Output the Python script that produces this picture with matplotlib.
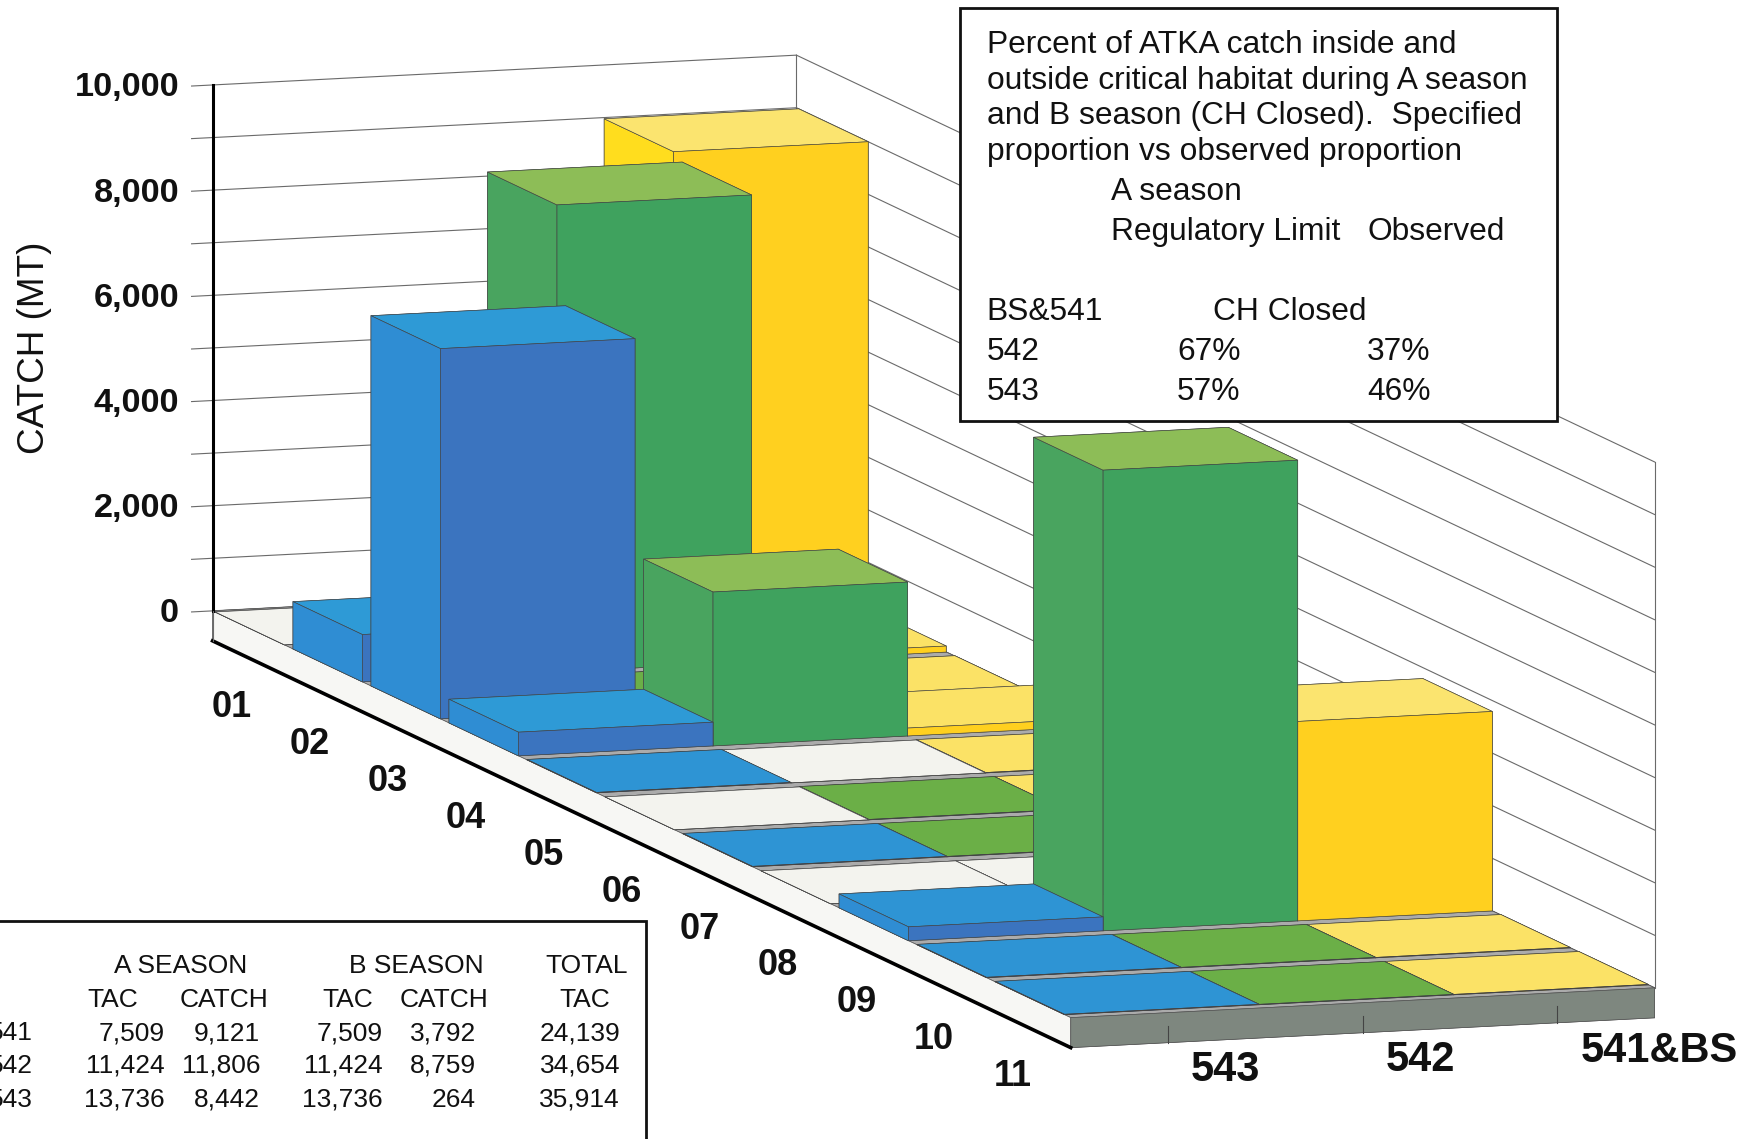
import matplotlib
matplotlib.use("Agg")
import matplotlib.pyplot as plt
from matplotlib.patches import Rectangle
from mpl_toolkits.mplot3d import proj3d

plt.rcParams['font.family'] = ['Liberation Sans', 'DejaVu Sans']

months = ['01', '02', '03', '04', '05', '06', '07', '08', '09', '10', '11']
areas = ['543', '542', '541&BS']
catch_543 = [0, 900, 7040, 450, 8, 0, 8, 0, 264, 8, 8]
catch_542 = [0, 8880, 8, 2926, 0, 8, 8, 0, 8759, 8, 8]
catch_541 = [9000, 115, 8, 150, 8, 8, 0, 0, 3792, 8, 8]
value_ticks = [0, 2000, 4000, 6000, 8000, 10000]
minor_ticks = [0, 1000, 2000, 3000, 4000, 5000, 6000, 7000, 8000, 9000, 10000]

# table values
table_rows = ['541', '542', '543']
a_tac = ['7,509', '11,424', '13,736']
a_catch = ['9,121', '11,806', '8,442']
b_tac = ['7,509', '11,424', '13,736']
b_catch = ['3,792', '8,759', '264']
total_tac = ['24,139', '34,654', '35,914']

W, H = 1744, 1139
fig = plt.figure(figsize=(W / 100, H / 100), dpi=100, facecolor='white')

# square 3D axes, view centre (which sits at 0.95/1.85 of the axes) on the chart box middle
cx, cy = 933.6, 536.4
c = 0.95 / 1.85
ax = fig.add_axes([(cx - c * W) / W, (H - cy - c * W) / H, 1, W / H],
                  projection='3d', computed_zorder=False)
ax.set_proj_type('ortho')
ax.view_init(elev=8.95, azim=-108.17)
ax.set_box_aspect((614.5, 2752, 532.4), zoom=0.8634 * 1.85)
ax.set_axis_off()
ax.patch.set_alpha(0)

BASE = -570
BAR_START, BAR_END = 0.03, 0.92
EDGE = '#444444'

# (-z, +z, -y, +y, -x, +x) - only top, front and left ever show
styles = [
    dict(left='#2F8DD3', top='#2E9AD6', flat='#2E94D4', front='#3B74BF'),
    dict(left='#49A45F', top='#8DBD57', flat='#6BAF47', front='#3FA25E'),
    dict(left='#FFDD1E', top='#FBE46F', flat='#FBE266', front='#FFD01F'),
]
FLOOR = '#F3F3EE'

# plinth: its top shows through as the grey strips between rows
ax.bar3d(0, 0, BASE, 3, 11, -BASE,
         color=['#888888', '#ABABAB', '#888888', '#7E877F', '#F7F7F4', '#888888'],
         edgecolor='#555555', linewidth=0.5, shade=False, zorder=5)

series = [catch_543, catch_542, catch_541]
for row in range(len(months)):
    for col in [2, 1, 0]:
        value = series[col][row]
        st = styles[col]
        if value == 0:
            top = FLOOR
        elif value < 400:
            top = st['flat']
        else:
            top = st['top']
        colors = [top, top, st['left'], st['front'], st['left'], st['left']]
        ax.bar3d(col, row + BAR_START, 0, 1, BAR_END - BAR_START, value,
                 color=colors, edgecolor=EDGE, linewidth=0.45, shade=False,
                 zorder=10 + row * 5 + (2 - col))

# walls
GRID = '#6a6a6a'
for v in minor_ticks:
    ax.plot([-0.108, 3], [0, 0], [v, v], color=GRID, lw=0.8, zorder=1)
    ax.plot([3, 3], [0, 11], [v, v], color=GRID, lw=0.8, zorder=1)
ax.plot([3, 3], [0, 0], [0, 10000], color=GRID, lw=0.8, zorder=1)
ax.plot([3, 3], [11, 11], [0, 10000], color=GRID, lw=0.8, zorder=1)

# heavy axis lines and plinth ticks
ax.plot([0, 0], [0, 0], [0, 10000], color='black', lw=2.2, zorder=100)
ax.plot([0, 0], [0, 11], [BASE, BASE], color='black', lw=2.6, zorder=100)
ax.plot([0, 0], [0, 0], [BASE, 0], color=GRID, lw=0.8, zorder=100)
for i in range(3):
    ax.plot([i + 0.5, i + 0.5], [11, 11], [BASE, BASE * 0.45], color='#444444', lw=0.8, zorder=100)

# limits last, plot and bar3d autoscale
ax.set_xlim(0, 3)
ax.set_ylim(11, 0)
ax.set_zlim(0, 10000)

# flat overlay in image pixels for the two boxes and the labels
ov = fig.add_axes([0, 0, 1, 1], zorder=5)
ov.set_xlim(0, W)
ov.set_ylim(H, 0)
ov.axis('off')


def label3d(x, y, z, s, **kw):
    # project a chart position through the 3D axes, then write it on the overlay
    ax.apply_aspect()
    x2, y2, _ = proj3d.proj_transform(x, y, z, ax.get_proj())
    px, py = ax.transData.transform((x2, y2))
    ov.text(px, H - py, s, va='center', fontweight='bold', color='#111111', **kw)


# axis labels
for v in value_ticks:
    label3d(-0.172, 0, v - 25, f'{v:,}', ha='right', fontsize=24.7)
for i, m in enumerate(months):
    label3d(-0.100, i + 0.5, -1460, m, ha='center', fontsize=26)
for i, a in enumerate(areas):
    label3d(i + 0.618, 11, -1120, a, ha='left', fontsize=30)

ov.text(35, 348, 'CATCH (MT)', rotation=90, ha='center', va='center', fontsize=26.6, color='#111111')

ov.add_patch(Rectangle((960, 8), 597, 413, fc='white', ec='#111111', lw=2))
note = [
    (986.5, 45, 'Percent of ATKA catch inside and'),
    (986.5, 81, 'outside critical habitat during A season'),
    (986.5, 116, 'and B season (CH Closed).  Specified'),
    (986.5, 152, 'proportion vs observed proportion'),
    (1111, 192, 'A season'),
    (1111, 232, 'Regulatory Limit'),
    (1367, 232, 'Observed'),
    (986.5, 312, 'BS&541'),
    (1213, 312, 'CH Closed'),
    (986.5, 352, '542'),
    (1177, 352, '67%'),
    (1367, 352, '37%'),
    (986.5, 392, '543'),
    (1177, 392, '57%'),
    (1367, 392, '46%'),
]
for x, y, s in note:
    ov.text(x, y, s, ha='left', va='center', fontsize=22.85, color='#111111')

ov.add_patch(Rectangle((-10, 921), 656, 240, fc='white', ec='#111111', lw=2))
for x, y, s in [(181, 966, 'A SEASON'), (416, 966, 'B SEASON'), (587, 966, 'TOTAL'),
                (113, 1000, 'TAC'), (224, 1000, 'CATCH'), (348, 1000, 'TAC'),
                (444, 1000, 'CATCH'), (585, 1000, 'TAC')]:
    ov.text(x, y, s, ha='center', va='center', fontsize=19, color='#111111')
rows_y = [1033, 1066, 1100]
for i, y in enumerate(rows_y):
    ov.text(33, y, table_rows[i], ha='right', va='center', fontsize=19, color='#111111')
    ov.text(165, y, a_tac[i], ha='right', va='center', fontsize=19, color='#111111')
    ov.text(260, y, a_catch[i], ha='right', va='center', fontsize=19, color='#111111')
    ov.text(383, y, b_tac[i], ha='right', va='center', fontsize=19, color='#111111')
    ov.text(476, y, b_catch[i], ha='right', va='center', fontsize=19, color='#111111')
    ov.text(620, y, total_tac[i], ha='right', va='center', fontsize=19, color='#111111')

fig.savefig('out.png', dpi=100)
